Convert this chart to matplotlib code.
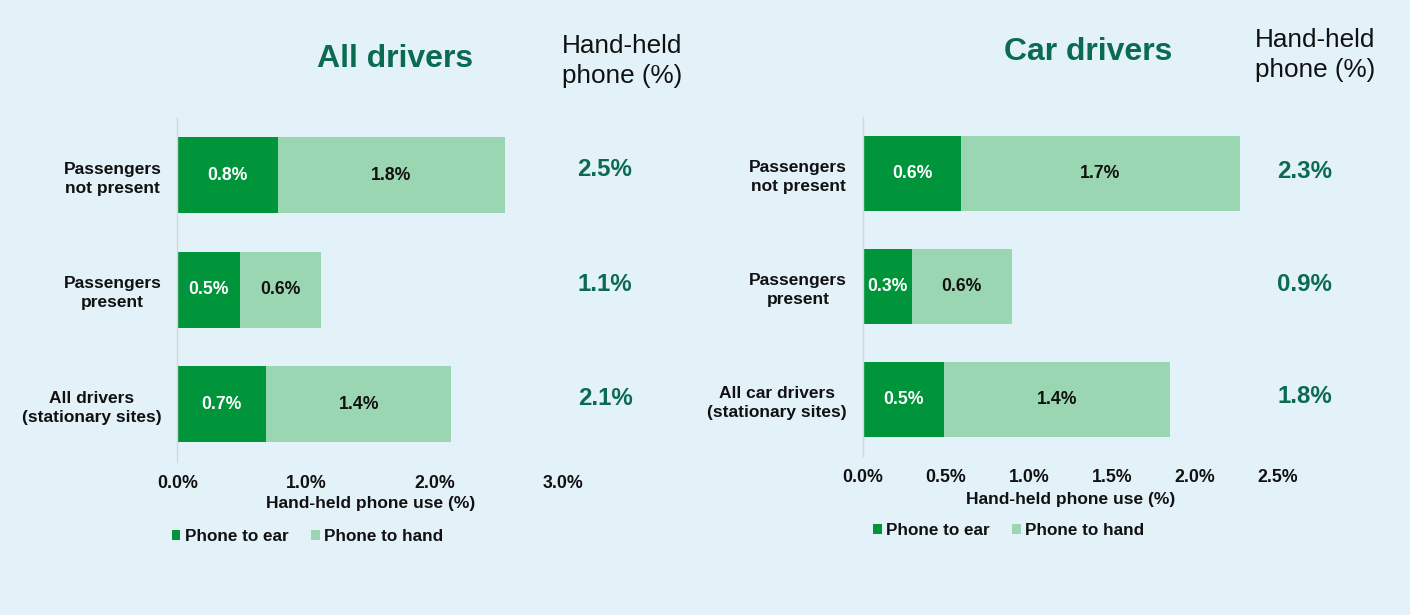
import matplotlib
matplotlib.use("Agg")
import matplotlib.pyplot as plt
from matplotlib.patches import Patch

plt.rcParams['font.family'] = ['Liberation Sans', 'DejaVu Sans']

# ---- data ----
left_categories = ["Passengers\nnot present", "Passengers\npresent", "All drivers\n(stationary sites)"]
left_ear = [0.78, 0.486, 0.69]
left_hand = [1.77, 0.63, 1.44]
left_totals = [2.5, 1.1, 2.1]

right_categories = ["Passengers\nnot present", "Passengers\npresent", "All car drivers\n(stationary sites)"]
right_ear = [0.59, 0.295, 0.49]
right_hand = [1.68, 0.60, 1.36]
right_totals = [2.3, 0.9, 1.8]

left_ticks = [0.0, 1.0, 2.0, 3.0]
right_ticks = [0.0, 0.5, 1.0, 1.5, 2.0, 2.5]

series_names = ["Phone to ear", "Phone to hand"]
titles = ["All drivers", "Car drivers"]
total_header = "Hand-held\nphone (%)"
xlabel = "Hand-held phone use (%)"

# ---- style ----
BG = "#E3F1F9"
DARK = "#00953A"
LIGHT = "#9AD6B1"
TEAL = "#0B6B50"
INK = "#111111"

W, H = 1410, 615
fig = plt.figure(figsize=(W / 100, H / 100), dpi=100, facecolor=BG)


def px_rect(x0, x1, ytop, ybot):
    return [x0 / W, 1 - ybot / H, (x1 - x0) / W, (ybot - ytop) / H]


def panel(rect, cats, ear, hand, totals, ticks, tot_x, tot_dy, label_y):
    ax = fig.add_axes(rect)
    ax.set_facecolor(BG)
    y = list(range(len(cats)))
    ax.barh(y, ear, height=0.665, color=DARK, edgecolor='none')
    ax.barh(y, hand, left=ear, height=0.665, color=LIGHT, edgecolor='none')
    for i in y:
        ax.text(ear[i] / 2, i, f"{ear[i]:.1f}%", ha='center', va='center',
                color='white', fontsize=12.7, fontweight='bold')
        ax.text(ear[i] + hand[i] / 2, i, f"{hand[i]:.1f}%", ha='center', va='center',
                color=INK, fontsize=12.7, fontweight='bold')
        ax.text(tot_x, i + tot_dy, f"{totals[i]:.1f}%", transform=ax.get_yaxis_transform(),
                ha='center', va='center', color=TEAL, fontsize=17.3, fontweight='bold')
    ax.set_ylim(len(cats) - 0.5, -0.5)
    ax.set_xlim(ticks[0], ticks[-1])
    ax.set_yticks(y)
    ax.set_yticklabels(cats, fontsize=12.5, fontweight='bold', color=INK)
    for lab in ax.get_yticklabels():
        lab.set_multialignment('center')
        lab.set_linespacing(1.32)
    ax.set_xticks(ticks)
    ax.set_xticklabels([f"{t:.1f}%" for t in ticks], fontsize=12.8, fontweight='bold', color=INK)
    ax.tick_params(axis='both', length=0)
    ax.tick_params(axis='y', pad=11.5)
    ax.tick_params(axis='x', pad=10)
    for s in ['top', 'right', 'bottom']:
        ax.spines[s].set_visible(False)
    ax.spines['left'].set_color('#D6D6D6')
    ax.spines['left'].set_linewidth(1)
    ax.set_xlabel(xlabel, fontsize=12.5, fontweight='bold', color=INK)
    ax.xaxis.set_label_coords(0.5, label_y)
    ax.xaxis.label.set_va('center')
    return ax


axL = panel(px_rect(177.5, 563, 118, 461.5), left_categories, left_ear, left_hand,
            left_totals, left_ticks, 1.109, -0.05, -0.1237)
axR = panel(px_rect(863, 1278, 117.4, 455.6), right_categories, right_ear, right_hand,
            right_totals, right_ticks, 1.064, -0.02, -0.131)

# titles
fig.text(395 / W, 1 - 59 / H, titles[0], ha='center', va='center', fontsize=23,
         fontweight='bold', color=TEAL)
fig.text(1088 / W, 1 - 52 / H, titles[1], ha='center', va='center', fontsize=23,
         fontweight='bold', color=TEAL)
fig.text(561.7 / W, 1 - 61 / H, total_header, ha='left', va='center', fontsize=18.8,
         color=INK, linespacing=1.3)
fig.text(1255 / W, 1 - 55 / H, total_header, ha='left', va='center', fontsize=18.8,
         color=INK, linespacing=1.3)

# legends
handles = [Patch(facecolor=DARK, edgecolor='none'), Patch(facecolor=LIGHT, edgecolor='none')]
for (lx, ly) in [(171.7, 536.7), (873, 530.7)]:
    leg = fig.legend(handles, series_names, loc='center left', bbox_to_anchor=(lx / W, 1 - ly / H),
                     ncol=2, frameon=False, borderpad=0, borderaxespad=0,
                     handlelength=0.5, handleheight=0.5, handletextpad=0.25,
                     columnspacing=1.35, prop={'size': 12.3, 'weight': 'bold'})
    for t in leg.get_texts():
        t.set_color(INK)

fig.savefig("out.png", dpi=100, facecolor=BG)
